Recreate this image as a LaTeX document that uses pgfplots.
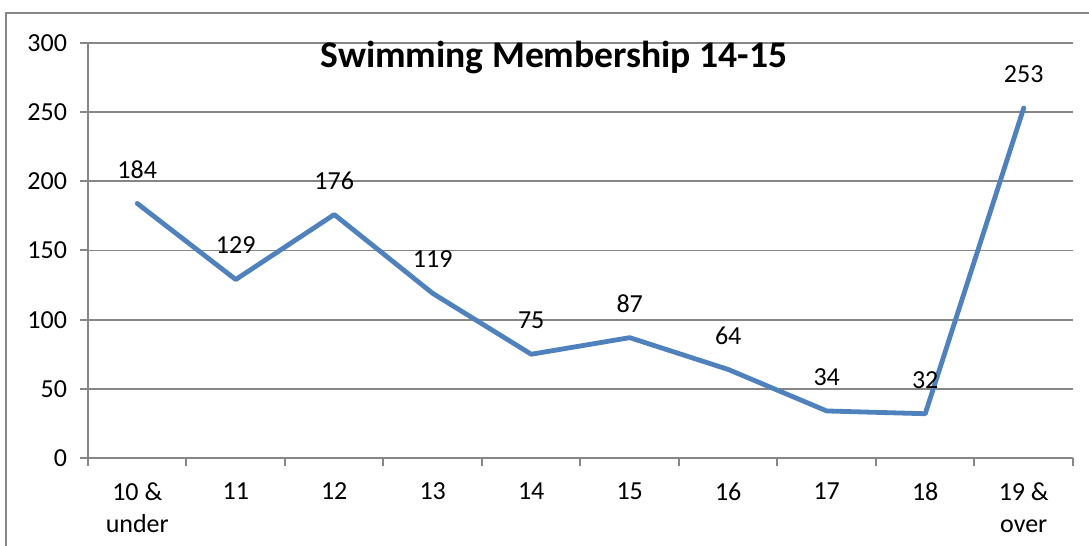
\documentclass[border=0pt]{standalone}
\usepackage{pgfplots}
\pgfplotsset{compat=1.18}
\usepackage{fontspec}
\setmainfont{Carlito}
\definecolor{gridgray}{HTML}{868686}
\definecolor{exblue}{HTML}{4F81BD}
\begin{document}
\begin{tikzpicture}
\path[use as bounding box] (-44pt,-44pt) rectangle (500.5pt,229pt);
\clip (-44pt,-44pt) rectangle (500.5pt,229pt);
\draw[gridgray, line width=1pt] (-41pt,-80pt) rectangle (560pt,222.5pt);
\begin{axis}[
  at={(0,0)}, anchor=south west,
  scale only axis,
  width=492.5pt, height=207.5pt,
  xmin=-0.5, xmax=9.5,
  ymin=0, ymax=300,
  ytick={0,50,...,300},
  xtick={0,...,9},
  xticklabels={{10 \&\\under},11,12,13,14,15,16,17,18,{19 \&\\over}},
  minor xtick={-0.5,0.5,...,9.5},
  axis lines=left,
  axis line style={-, gridgray, line width=1pt},
  ymajorgrids,
  major grid style={gridgray, line width=0.9pt},
  tick style={gridgray, line width=1pt},
  major tick length=4pt,
  minor tick length=4pt,
  tick align=outside,
  x tick style={draw=none},
  minor x tick style={draw=gridgray, line width=1pt},
  /pgf/number format/assume math mode=true,
  tick label style={font=\fontsize{13}{16}\selectfont, black},
  xticklabel style={align=center, yshift=-5pt},
  yticklabel style={xshift=-3pt},
  clip=false,
]
\addplot[exblue, line width=2.4pt, line join=round, line cap=round,
  nodes near coords,
  every node near coord/.style={anchor=center, yshift=17pt, font=\fontsize{13}{15}\selectfont, black}]
  coordinates {(0,184) (1,129) (2,176) (3,119) (4,75) (5,87) (6,64) (7,34) (8,32) (9,253)};
\end{axis}
\node[anchor=base, font=\fontsize{18.8}{20}\selectfont\bfseries] at (233pt,195pt) {Swimming Membership 14-15};
\end{tikzpicture}
\end{document}
